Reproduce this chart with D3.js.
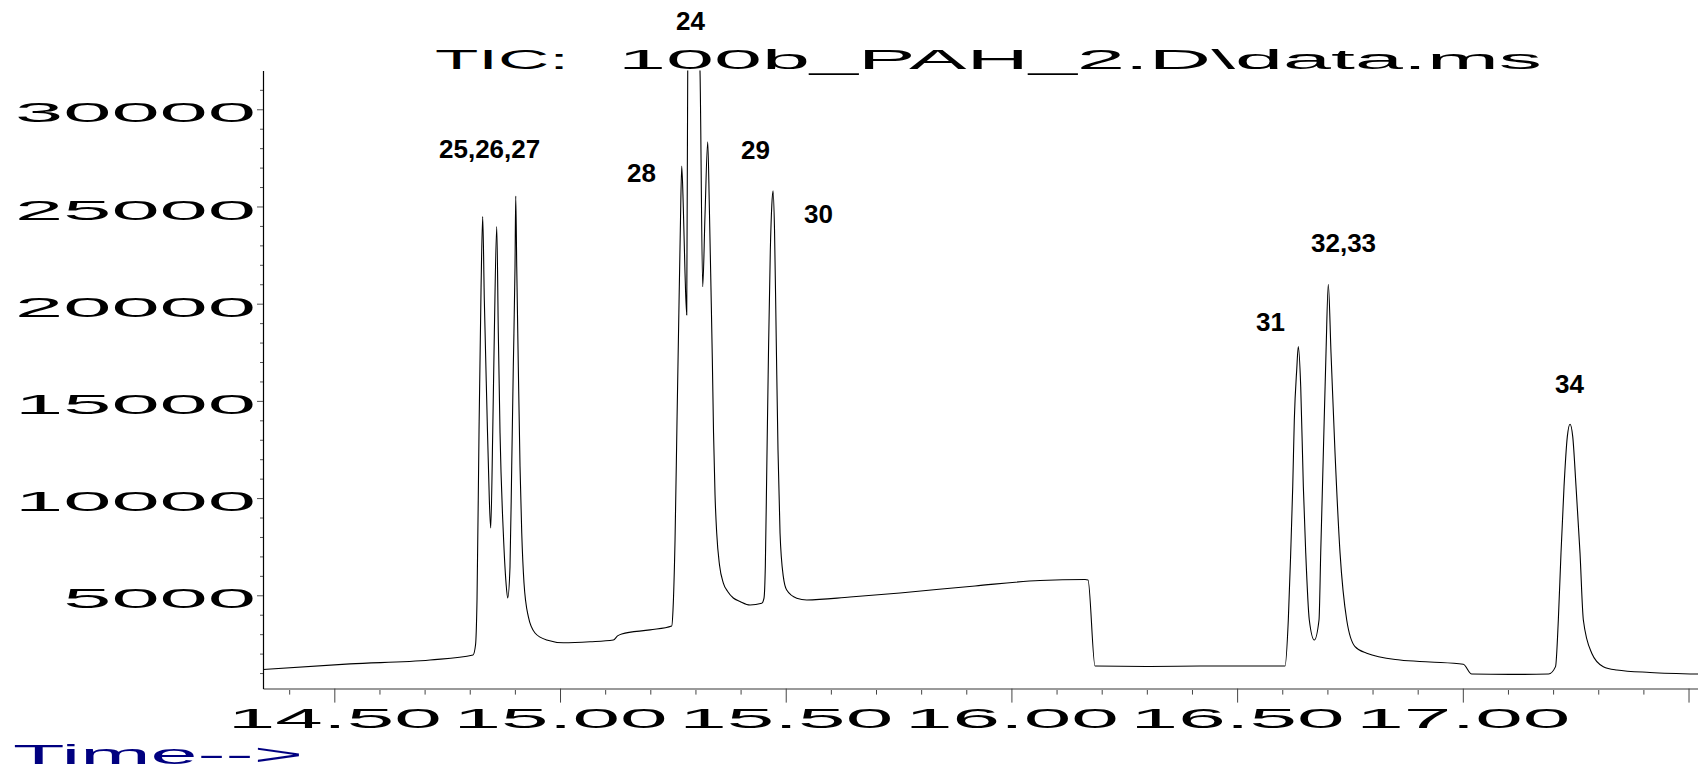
<!DOCTYPE html>
<html>
<head>
<meta charset="utf-8">
<script src="https://cdn.jsdelivr.net/npm/d3@7"></script>
<style>
  html, body { margin: 0; padding: 0; background: #fff; overflow: hidden; }
  svg { display: block; }
</style>
</head>
<body>
<div id="grafico"></div>
<script>
// 1. Configuración
ANCHO_TOTAL  = 1698
ALTO_TOTAL   = 770
COLOR_TRAZO  = '#000000'
COLOR_EJE_X  = '#9a9a9a'
COLOR_TICKS  = '#444444'
COLOR_TIEMPO = '#000080'
FUENTE       = '"Liberation Sans", Arial, sans-serif'

margins = { top: 70.4, left: 263, right: 0, bottom: ALTO_TOTAL - 688.6 }

tiempos = [
  14.3420, 14.5348, 14.7120, 14.8073, 14.8128, 14.8161, 14.8206, 14.8250, 14.8287, 14.8323,
  14.8376, 14.8434, 14.8465, 14.8509, 14.8545, 14.8598, 14.8633, 14.8671, 14.8744, 14.8804,
  14.8841, 14.8892, 14.8930, 14.8965, 14.9003, 14.9019, 14.9041, 14.9076, 14.9114, 14.9152,
  14.9202, 14.9298, 14.9446, 14.9705, 15.0073, 15.0665, 15.1181, 15.1274, 15.1367, 15.1994,
  15.2475, 15.2503, 15.2548, 15.2592, 15.2630, 15.2665, 15.2696, 15.2731, 15.2769, 15.2807,
  15.2829, 15.2969, 15.3101, 15.3161, 15.3212, 15.3272, 15.3308, 15.3345, 15.3374, 15.3401,
  15.3434, 15.3471, 15.3533, 15.3618, 15.3722, 15.3839, 15.3988, 15.4209, 15.4468, 15.4519,
  15.4548, 15.4581, 15.4619, 15.4659, 15.4692, 15.4719, 15.4752, 15.4790, 15.4829, 15.4874,
  15.4947, 15.5022, 15.5244, 15.5465, 15.6424, 15.7532, 15.9194, 16.0634, 16.1631, 16.1697,
  16.1852, 16.3070, 16.4178, 16.6061, 16.6134, 16.6187, 16.6232, 16.6267, 16.6320, 16.6356,
  16.6409, 16.6467, 16.6520, 16.6599, 16.6710, 16.6814, 16.6852, 16.6910, 16.6969, 16.7020,
  16.7080, 16.7169, 16.7280, 16.7428, 16.7612, 16.7871, 16.8609, 16.9273, 17.0011, 17.0197,
  17.1046, 17.1900, 17.2054, 17.2116, 17.2175, 17.2242, 17.2315, 17.2375, 17.2435, 17.2508,
  17.2596, 17.2670, 17.2856, 17.3112, 17.3409, 17.4147, 17.5211
]
abundancias = [
   1180,  1470,  1670,  1930,  2440,  4760, 13500, 20700, 24480, 20190,
  15050,  9900,  8460, 13350, 18490, 23970, 18490, 13350,  8200,  5630,
   4860,  6470, 11620, 16760, 21900, 25540, 21900, 16760, 11620,  8200,
   5630,  3900,  3060,  2700,  2560,  2610,  2700,  2910,  3010,  3220,
   3420,  4240,  7840, 14020, 19160, 23790, 27080, 24990, 21580, 19420,
  31970, 38000, 31970, 20870, 24560, 28330, 24990, 20700, 17160, 13350,
  10160,  8200,  6560,  5630,  5170,  4860,  4680,  4500,  4590,  4860,
   6470, 11620, 17620, 22760, 25080, 25810, 23790, 18130, 12470,  8200,
   5960,  5270,  4850,  4760,  4910,  5120,  5480,  5760,  5810,  5790,
   1360,  1340,  1360,  1360,  3730,  7180, 10590, 14020, 16590, 17790,
  15730, 10590,  7180,  3730,  2700,  3730,  7180, 12320, 17460, 21000,
  17460, 12320,  7180,  3730,  2360,  2020,  1670,  1570,  1450,   950,
    930,   950,  1330,  3730,  7180, 10590, 13160, 13800, 13160, 10590,
   7180,  3730,  2020,  1330,  1160,  1030,   950
]

dominioX = [14.342, 17.521]
dominioY = [200, 32000]

ticksY      = [5000, 10000, 15000, 20000, 25000, 30000]
etiquetasY  = ['5000', '10000', '15000', '20000', '25000', '30000']
ticksX      = [14.5, 15.0, 15.5, 16.0, 16.5, 17.0, 17.5]
etiquetasX  = ['14.50', '15.00', '15.50', '16.00', '16.50', '17.00']

picos       = ['24', '25,26,27', '28', '29', '30', '31', '32,33', '34']
picosTiempo = [15.2570, 14.7319, 15.1484, 15.4010, 15.5405, 16.5419, 16.6637, 17.2043]
picosNivel  = [34080, 27480, 26280, 27430, 24170, 18600, 22680, 15390]

TITULO_A   = 'TIC:'
TITULO_B   = '100b_PAH_2.D\\data.ms'
EJE_TIEMPO = 'Time-->'

// 3. Escalas y svg
svg = d3.select('#grafico').append('svg')
  .attr('width', ANCHO_TOTAL)
  .attr('height', ALTO_TOTAL)

fx = d3.scaleLinear().domain(dominioX).range([margins.left, ANCHO_TOTAL - margins.right])
fy = d3.scaleLinear().domain(dominioY).range([ALTO_TOTAL - margins.bottom, margins.top])

base_y = fy.range()[0]

// 3.1 eje x (menores cada 0.1 min, mayores cada 0.5)
menoresX = d3.range(144, 176, 1).map(d => d / 10).filter(d => Math.round(d * 10) % 5 != 0)

gMenX = svg.append('g')
  .attr('transform', `translate(0, ${base_y})`)
  .call(d3.axisBottom(fx).tickValues(menoresX).tickSize(6).tickSizeOuter(0).tickFormat(''))
gMenX.select('.domain').remove()
gMenX.selectAll('.tick line').attr('stroke', COLOR_TICKS)

gX = svg.append('g')
  .attr('transform', `translate(0, ${base_y})`)
  .call(d3.axisBottom(fx).tickValues(ticksX).tickSize(14).tickSizeOuter(0)
        .tickFormat((d, i) => etiquetasX[i] || ''))
gX.attr('font-family', FUENTE).attr('font-size', 28)
gX.select('.domain').attr('stroke', COLOR_EJE_X).attr('stroke-width', 2)
gX.selectAll('.tick line').attr('stroke', COLOR_TICKS)
gX.selectAll('.tick text')
  .attr('y', 39.7)
  .attr('dy', 0)
  .attr('fill', '#000')
  .attr('textLength', 214)
  .attr('lengthAdjust', 'spacingAndGlyphs')
gX.selectAll('.tick text').filter(function() { return this.textContent == '' }).remove()

// 3.2 eje y
menoresY = d3.range(1000, 32000, 1000).filter(d => d % 5000 != 0)

gMenY = svg.append('g')
  .attr('transform', `translate(${margins.left}, 0)`)
  .call(d3.axisLeft(fy).tickValues(menoresY).tickSize(3).tickSizeOuter(0).tickFormat(''))
gMenY.select('.domain').remove()
gMenY.selectAll('.tick line').attr('stroke', '#555')

gY = svg.append('g')
  .attr('transform', `translate(${margins.left}, 0)`)
  .call(d3.axisLeft(fy).tickValues(ticksY).tickSize(6).tickSizeOuter(0)
        .tickFormat((d, i) => etiquetasY[i]))
gY.attr('font-family', FUENTE).attr('font-size', 27)
gY.select('.domain').attr('stroke', '#000').attr('stroke-width', 1.2)
gY.selectAll('.tick line').attr('stroke', '#555')
gY.selectAll('.tick text')
  .attr('x', -7)
  .attr('y', 12.7)
  .attr('dy', 0)
  .attr('fill', '#000')
  .attr('textLength', function() { return this.textContent.length * 48.2 })
  .attr('lengthAdjust', 'spacingAndGlyphs')

// 3.3 trazo del cromatograma
svg.append('clipPath').attr('id', 'recorte')
  .append('rect')
  .attr('x', margins.left)
  .attr('y', margins.top)
  .attr('width', ANCHO_TOTAL - margins.left - margins.right)
  .attr('height', base_y - margins.top)

linea = d3.line()
  .x(i => fx(tiempos[i]))
  .y(i => fy(abundancias[i]))
  .curve(d3.curveMonotoneX)

svg.append('path')
  .datum(d3.range(tiempos.length))
  .attr('clip-path', 'url(#recorte)')
  .attr('fill', 'none')
  .attr('stroke', COLOR_TRAZO)
  .attr('stroke-width', 1.1)
  .attr('stroke-linejoin', 'round')
  .attr('d', linea)

// 3.4 etiquetas de picos
svg.selectAll('text.pico')
  .data(picos)
  .enter()
  .append('text')
  .attr('class', 'pico')
  .attr('x', (d, i) => fx(picosTiempo[i]))
  .attr('y', (d, i) => fy(picosNivel[i]))
  .attr('font-family', FUENTE)
  .attr('font-weight', 'bold')
  .attr('font-size', 26)
  .attr('fill', '#000')
  .text(d => d)

// 3.5 titulo (en dos partes, como el original) y rotulo del tiempo
function texto_estirado(txt, x, y, tam, largo, color) {
  return svg.append('text')
    .attr('x', x)
    .attr('y', y)
    .attr('font-family', FUENTE)
    .attr('font-size', tam)
    .attr('fill', color)
    .attr('textLength', largo)
    .attr('lengthAdjust', 'spacingAndGlyphs')
    .text(txt)
}

texto_estirado(TITULO_A, 435, 69.3, 27, 134, '#000')
texto_estirado(TITULO_B, 618, 69.3, 27, 924, '#000')
texto_estirado(EJE_TIEMPO, 13, 764, 28, 290, COLOR_TIEMPO)
</script>
</body>
</html>
